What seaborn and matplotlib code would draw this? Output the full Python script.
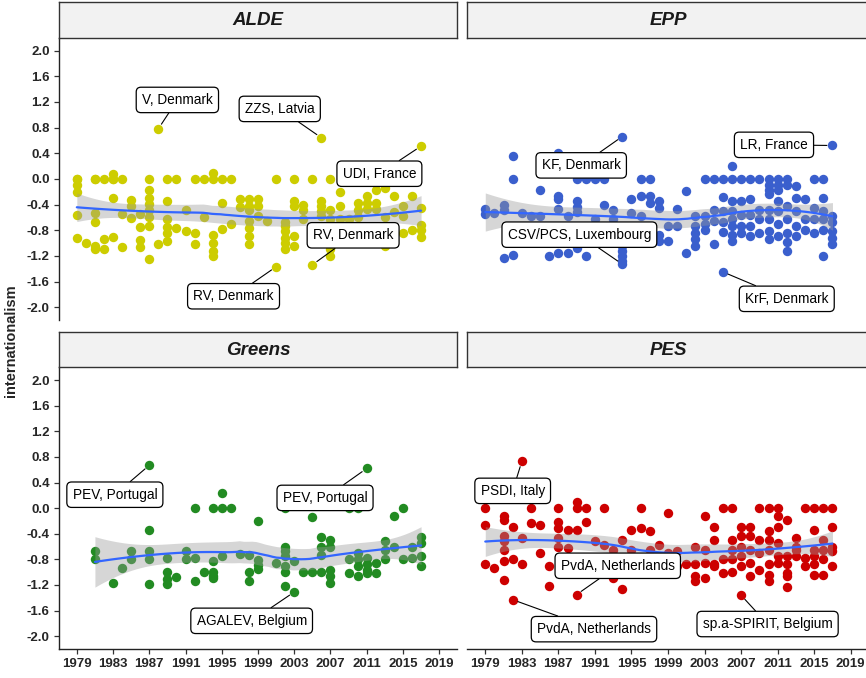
import numpy as np
import pandas as pd
import seaborn as sns
import matplotlib.pyplot as plt

# party families, panel order and colours
families = ["ALDE", "EPP", "Greens", "PES"]
colors = {"ALDE": "#CDCD00", "EPP": "#3A5FCD", "Greens": "#228B22", "PES": "#CD0000"}

# internationalism scores by year (a few sit under the label boxes)
alde_points = {
    1979: [0, 0, -0.1, -0.2, -0.57, -0.92], 1980: [-1.0],
    1981: [0, 0, -0.53, -0.67, -1.05, -1.1], 1982: [0, -0.94, -1.1],
    1983: [0.08, 0, 0, -0.3, -0.9], 1984: [0, -0.55, -1.06],
    1985: [-0.33, -0.42, -0.61], 1986: [-0.55, -0.75, -0.95, -1.06],
    1987: [0, -0.18, -0.3, -0.39, -0.48, -0.59, -0.73, -1.25], 1988: [0.78, -1.02],
    1989: [0, -0.35, -0.63, -0.75, -0.85, -0.97], 1990: [0, -0.76],
    1991: [-0.48, -0.82], 1992: [0, -0.84, -1.02], 1993: [0, -0.6],
    1994: [0.09, 0, -0.87, -1.0, -1.12, -1.2], 1995: [0, -0.37, -0.78],
    1996: [0, -0.7], 1997: [-0.32, -0.44],
    1998: [-0.32, -0.42, -0.48, -0.65, -0.76, -0.89, -1.02], 1999: [-0.32, -0.42, -0.58],
    2000: [-0.66], 2001: [0, -1.37], 2002: [-0.68, -0.74, -0.81, -0.92, -1.0, -1.1],
    2003: [0, -0.35, -0.42, -0.89, -1.05], 2004: [-0.4, -0.48, -0.63], 2005: [0, -0.85, -1.34],
    2006: [0.64, -0.35, -0.42, -0.5, -0.58, -0.8], 2007: [0, -0.48, -0.63, -0.9, -1.1, -1.2],
    2008: [-0.2, -0.42, -0.63, -0.85], 2009: [-0.63, -0.7, -0.9], 2010: [-0.37, -0.48, -0.6, -0.8, -0.95],
    2011: [-0.27, -0.37, -0.47, -0.85], 2012: [-0.17, -0.37, -0.47, -0.9], 2013: [-0.15, -0.6, -1.05],
    2014: [-0.27, -0.52, -0.8], 2015: [-0.43, -0.58, -0.85], 2016: [-0.27, -0.8],
    2017: [0.51, -0.45, -0.72, -0.8, -0.9],
}
epp_points = {
    1979: [-0.47, -0.55], 1980: [-0.53], 1981: [-0.4, -0.48, -1.23], 1982: [0.35, 0, -1.18],
    1983: [-0.53], 1984: [-0.58, -0.85], 1985: [-0.18, -0.58], 1986: [-1.2],
    1987: [0.4, -0.26, -0.32, -0.47, -1.15], 1988: [-1.15, -0.58, -0.9],
    1989: [0, -0.35, -0.44, -0.52, -1.07], 1990: [0, -1.2], 1991: [0, -0.63, -0.95], 1992: [0, -0.4],
    1993: [-0.49, -0.63], 1994: [0.66, -1.05, -1.13, -1.2, -1.28, -1.33],
    1995: [-0.32, -0.53, -0.85], 1996: [0, -0.27, -0.58], 1997: [0, -0.27, -0.37, -0.89],
    1998: [-0.35, -0.45, -0.87, -0.97], 1999: [-0.73, -0.97], 2000: [-0.47, -0.73],
    2001: [-0.19, -1.15], 2002: [-0.58, -0.74, -0.84, -0.93, -1.05],
    2003: [0, -0.58, -0.71, -0.79], 2004: [0, -0.48, -0.66, -1.02],
    2005: [0, -0.28, -0.5, -0.68, -0.83, -1.45],
    2006: [0.2, 0, -0.35, -0.5, -0.63, -0.74, -0.87, -0.97],
    2007: [0, -0.35, -0.56, -0.74, -0.84], 2008: [0, -0.32, -0.56, -0.74, -0.89],
    2009: [0, -0.48, -0.63, -0.84], 2010: [0, -0.09, -0.17, -0.24, -0.48, -0.63, -0.81, -0.94],
    2011: [0, -0.09, -0.17, -0.35, -0.5, -0.71, -0.89],
    2012: [0, -0.09, -0.43, -0.63, -0.84, -0.99, -1.12],
    2013: [-0.11, -0.3, -0.5, -0.74, -0.89], 2014: [-0.32, -0.63, -0.79],
    2015: [0, -0.45, -0.63, -0.84], 2016: [0, -0.3, -0.5, -0.63, -0.79, -1.2],
    2017: [0.52, -0.58, -0.68, -0.81, -0.92, -1.02],
}
greens_points = {
    1981: [-0.67, -0.8], 1983: [-1.17], 1984: [-0.93], 1985: [-0.67, -0.8],
    1987: [0.67, -0.34, -0.67, -0.8, -1.19], 1989: [-0.78, -1.0, -1.11, -1.19],
    1990: [-1.08], 1991: [-0.67, -0.8], 1992: [0, -0.78, -1.14], 1993: [-1.0],
    1994: [0, -0.83, -1.0, -1.06, -1.09], 1995: [0.23, 0, -0.75], 1996: [0], 1997: [-0.71],
    1998: [-0.73, -1.0, -1.14], 1999: [-0.2, -0.81, -0.89, -0.95], 2001: [-0.86],
    2002: [0, -0.6, -0.67, -0.75, -0.91, -0.99, -1.22], 2003: [-0.83, -1.31],
    2004: [-0.99], 2005: [-0.14, -1.0], 2006: [-0.45, -0.6, -0.73, -0.99],
    2007: [-0.49, -0.6, -0.96, -1.06, -1.17], 2009: [0, -0.8, -1.01],
    2010: [0, -0.7, -0.8, -0.9, -1.06], 2011: [0.62, -0.78, -0.88, -0.96, -1.01],
    2012: [-0.86, -1.02], 2013: [-0.52, -0.65, -0.8], 2014: [-0.12, -0.6],
    2015: [0, -0.8], 2016: [-0.6, -0.78], 2017: [-0.45, -0.55, -0.75, -0.9],
}
pes_points = {
    1979: [0, -0.26, -0.88], 1980: [-0.93],
    1981: [-0.13, -0.18, -0.44, -0.52, -0.65, -0.83, -1.12], 1982: [-0.29, -0.8, -1.43],
    1983: [0.73, -0.47, -0.88], 1984: [0, -0.23], 1985: [-0.26, -0.7], 1986: [-0.91, -1.22],
    1987: [0, -0.21, -0.31, -0.47, -0.6], 1988: [-0.34, -0.62], 1989: [0.1, 0, -0.34, -1.35],
    1990: [0, -0.21, -0.9], 1991: [-0.52, -0.91], 1992: [0, -0.57, -0.95], 1993: [-0.65, -1.09],
    1994: [-0.49, -1.27], 1995: [-0.34, -0.65, -0.9], 1996: [0, -0.31, -0.85], 1997: [-0.36, -0.65, -0.95],
    1998: [-0.57, -0.88], 1999: [-0.07, -0.7, -0.92], 2000: [-0.67, -0.9], 2001: [-0.88],
    2002: [-0.6, -0.88, -1.06, -1.14], 2003: [-0.12, -0.65, -0.86, -1.09],
    2004: [-0.3, -0.49, -0.88, -0.91], 2005: [0, -0.8, -1.01],
    2006: [0, -0.49, -0.65, -0.8, -0.99], 2007: [-0.3, -0.44, -0.6, -0.75, -0.91, -1.36],
    2008: [-0.3, -0.44, -0.65, -0.86, -1.06], 2009: [0, -0.49, -0.7, -0.96],
    2010: [0, -0.36, -0.49, -0.65, -0.88, -1.04, -1.14],
    2011: [0, -0.13, -0.29, -0.55, -0.75, -0.86],
    2012: [-0.18, -0.75, -0.88, -1.01, -1.06, -1.23], 2013: [-0.47, -0.6, -0.65, -0.75],
    2014: [0, -0.78, -0.91], 2015: [0, -0.34, -0.65, -0.75, -0.88, -1.04],
    2016: [0, -0.49, -0.65, -0.8, -1.04], 2017: [0, -0.29, -0.6, -0.67, -0.91],
}

# labelled outliers: (text, year, value)
alde_labels = [("V, Denmark", 1988, 0.78), ("ZZS, Latvia", 2006, 0.64),
               ("UDI, France", 2017, 0.51), ("RV, Denmark", 2005, -1.34),
               ("RV, Denmark", 2001, -1.37)]
epp_labels = [("KF, Denmark", 1994, 0.66), ("LR, France", 2017, 0.52),
              ("CSV/PCS, Luxembourg", 1994, -1.33), ("KrF, Denmark", 2005, -1.45)]
greens_labels = [("PEV, Portugal", 1987, 0.67), ("PEV, Portugal", 2011, 0.62),
                 ("AGALEV, Belgium", 2003, -1.31)]
pes_labels = [("PSDI, Italy", 1983, 0.73), ("PvdA, Netherlands", 1989, -1.35),
              ("PvdA, Netherlands", 1982, -1.43), ("sp.a-SPIRIT, Belgium", 2007, -1.36)]

# where the label boxes sit (repel layout of the original)
alde_label_pos = [(1990.1, 1.23), (2001.4, 1.09), (2012.4, 0.08), (2009.5, -0.88), (1996.3, -1.83)]
epp_label_pos = [(1989.5, 0.21), (2010.6, 0.53), (1989.3, -0.87), (2012.0, -1.87)]
greens_label_pos = [(1983.2, 0.21), (2006.4, 0.16), (1998.3, -1.76)]
pes_label_pos = [(1982.0, 0.27), (1993.5, -0.9), (1990.9, -1.89), (2009.9, -1.81)]

year_ticks = list(range(1979, 2020, 4))
value_ticks = [-2.0, -1.6, -1.2, -0.8, -0.4, 0.0, 0.4, 0.8, 1.2, 1.6, 2.0]

points = {"ALDE": alde_points, "EPP": epp_points, "Greens": greens_points, "PES": pes_points}
labels = {"ALDE": alde_labels, "EPP": epp_labels, "Greens": greens_labels, "PES": pes_labels}
label_pos = {"ALDE": alde_label_pos, "EPP": epp_label_pos,
             "Greens": greens_label_pos, "PES": pes_label_pos}


def loess(x, y, xs, span=0.75):
    # local quadratic fit with tricube weights, like R's loess default
    n = len(x)
    q = int(np.floor(n * span))

    def op_row(x0):
        d = np.abs(x - x0)
        h = max(np.sort(d)[q - 1], 1.0)
        w = np.clip(1 - (d / h) ** 3, 0, None) ** 3
        A = np.column_stack([np.ones(n), x - x0, (x - x0) ** 2])
        AtW = A.T * w
        return np.linalg.solve(AtW @ A, AtW)[0]

    L = np.array([op_row(x0) for x0 in x])
    res = y - L @ y
    I_L = np.eye(n) - L
    delta1 = np.trace(I_L.T @ I_L)
    sigma = np.sqrt(np.sum(res ** 2) / delta1)
    rows = np.array([op_row(x0) for x0 in xs])
    fit = rows @ y
    se = sigma * np.sqrt(np.sum(rows ** 2, axis=1))
    return fit, se


def main():
    sns.set_style("white")
    plt.rcParams['font.family'] = ['Liberation Sans', 'DejaVu Sans']

    rows = []
    for fam in families:
        for yr, vals in points[fam].items():
            for v in vals:
                rows.append((fam, yr, v))
    df = pd.DataFrame(rows, columns=["family", "year", "internationalism"])

    fig = plt.figure(figsize=(8.66, 6.78), dpi=100)
    W, H = 866, 678
    col_x = [(58.7, 398.6), (467.0, 402.0)]
    row_y = [(1.7, 37.7, 320.0), (331.7, 367.3, 649.0)]

    for i, fam in enumerate(families):
        r, c = divmod(i, 2)
        x0, w = col_x[c]
        s_top, p_top, p_bot = row_y[r]
        ax = fig.add_axes([x0 / W, 1 - p_bot / H, w / W, (p_bot - p_top) / H])
        sax = fig.add_axes([x0 / W, 1 - p_top / H, w / W, (p_top - s_top) / H])

        # strip
        sax.set_facecolor("#F2F2F2")
        sax.set_xticks([])
        sax.set_yticks([])
        for sp in sax.spines.values():
            sp.set_color("#333333")
            sp.set_linewidth(1.0)
        sax.text(0.5, 0.48, fam, transform=sax.transAxes, ha="center", va="center",
                 fontsize=13.5, fontweight="bold", fontstyle="italic", color="#1A1A1A")

        sub = df[df["family"] == fam]
        sns.scatterplot(data=sub, x="year", y="internationalism", ax=ax,
                        color=colors[fam], s=46, linewidth=0, alpha=1, zorder=2)

        x = sub["year"].to_numpy(float)
        y = sub["internationalism"].to_numpy(float)
        xs = np.linspace(x.min(), x.max(), 80)
        fit, se = loess(x, y, xs)
        ax.fill_between(xs, fit - 1.97 * se, fit + 1.97 * se, color="#999999",
                        alpha=0.4, linewidth=0, zorder=3)
        sns.lineplot(x=xs, y=fit, ax=ax, color="#3366FF", linewidth=1.6, zorder=4)

        for (txt, yr, v), (lx, ly) in zip(labels[fam], label_pos[fam]):
            ax.annotate(txt, xy=(yr, v), xytext=(lx, ly), ha="center", va="center",
                        fontsize=9.8, color="black", zorder=6,
                        bbox=dict(boxstyle="round,pad=0.42,rounding_size=0.35",
                                  fc="white", ec="black", lw=0.9),
                        arrowprops=dict(arrowstyle="-", color="black", lw=0.8,
                                        shrinkA=0, shrinkB=4))

        ax.set_xlim(1977, 2021)
        ax.set_ylim(-2.2, 2.2)
        ax.set_xlabel("")
        ax.set_ylabel("")
        ax.set_facecolor("white")
        for sp in ["top", "right"]:
            ax.spines[sp].set_visible(False)
        ax.spines["left"].set_visible(c == 0)
        ax.spines["bottom"].set_visible(r == 1)
        for sp in ["left", "bottom"]:
            ax.spines[sp].set_color("#222222")
            ax.spines[sp].set_linewidth(1.0)

        ax.set_yticks(value_ticks)
        ax.set_xticks(year_ticks)
        ax.tick_params(axis="y", left=(c == 0), labelleft=(c == 0), length=3.5,
                       width=0.9, color="#333333", pad=3)
        ax.tick_params(axis="x", bottom=(r == 1), labelbottom=(r == 1), length=3.5,
                       width=0.9, color="#333333", pad=3)
        if c == 0:
            ax.set_yticklabels([f"{t:.1f}" for t in value_ticks], fontsize=9.5,
                               fontweight="bold")
        if r == 1:
            ax.set_xticklabels([str(t) for t in year_ticks], fontsize=9.5,
                               fontweight="bold")

    fig.text(0.013, 0.497, "internationalism", rotation=90, ha="center", va="center",
             fontsize=10.5, fontweight="bold")

    fig.savefig("out.png", dpi=100)


if __name__ == "__main__":
    main()
